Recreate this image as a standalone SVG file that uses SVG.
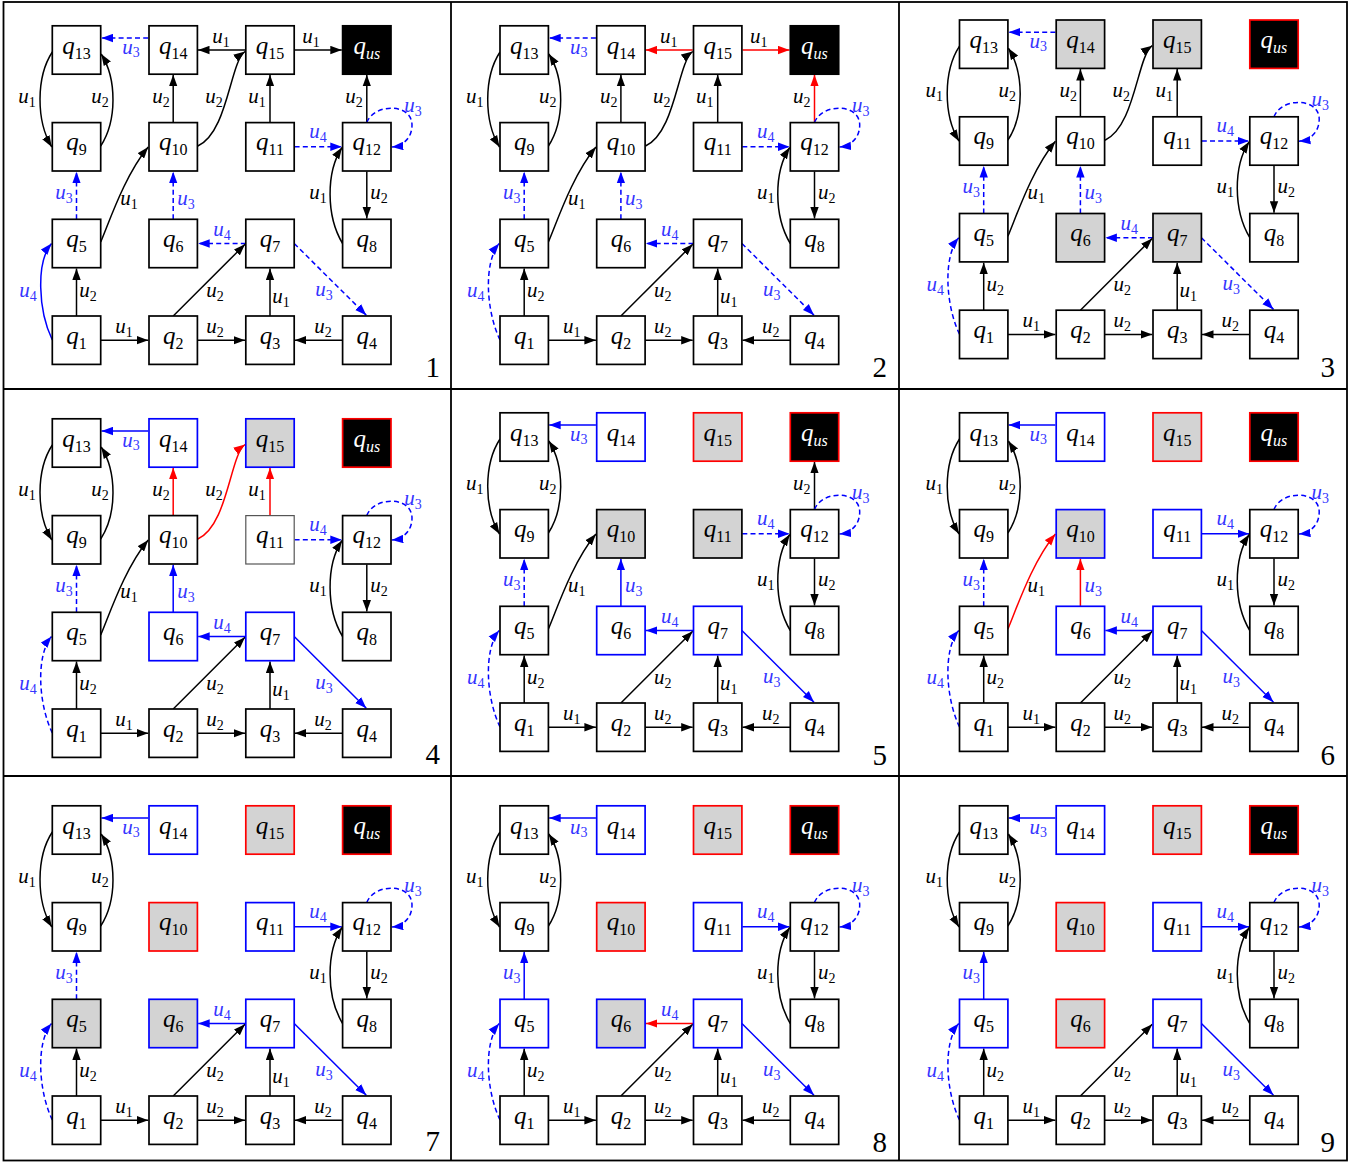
<svg xmlns="http://www.w3.org/2000/svg" width="1359" height="1162" viewBox="0 0 1359 1162">
<style>
.nd rect{stroke-width:1.7}
.n{fill:#fff;stroke:#000}
.g{fill:#d3d3d3;stroke:#000}
.b{fill:#fff;stroke:#00f}
.gb{fill:#d3d3d3;stroke:#00f}
.gr{fill:#d3d3d3;stroke:#f00}
.k{fill:#000;stroke:#000}
.kr{fill:#000;stroke:#f00}
.nd rect.t{fill:#fff;stroke:#555;stroke-width:1.2}
.q{font-family:"Liberation Serif",serif;font-style:italic;font-size:25px;text-anchor:middle;fill:#000}
.q tspan{font-style:normal;font-size:16px}
.q tspan.i{font-style:italic}
.q.w{fill:#fff}
.ek,.eb,.er{fill:none;stroke-width:1.5}
.ek{stroke:#000;marker-end:url(#ak)}
.eb{stroke:#00f;marker-end:url(#ab)}
.er{stroke:#f00;marker-end:url(#ar)}
.ed{stroke-dasharray:5 3.2}
.u{font-family:"Liberation Serif",serif;font-style:italic;font-size:21px;text-anchor:middle;fill:#000}
.u tspan{font-style:normal;font-size:14px}
.u.lb{fill:#3535ff}
.pn{font-family:"Liberation Serif",serif;font-size:29px;text-anchor:end;fill:#000}
.fr{fill:none;stroke:#000;stroke-width:1.8}
</style>
<defs>
<marker id="ak" markerUnits="userSpaceOnUse" markerWidth="12" markerHeight="9" refX="11.5" refY="4.5" orient="auto"><path d="M0,0.3L11.5,4.5L0,8.7Z" fill="#000"/></marker>
<marker id="ab" markerUnits="userSpaceOnUse" markerWidth="12" markerHeight="9" refX="11.5" refY="4.5" orient="auto"><path d="M0,0.3L11.5,4.5L0,8.7Z" fill="#00f"/></marker>
<marker id="ar" markerUnits="userSpaceOnUse" markerWidth="12" markerHeight="9" refX="11.5" refY="4.5" orient="auto"><path d="M0,0.3L11.5,4.5L0,8.7Z" fill="#f00"/></marker>
</defs>
<rect width="1359" height="1162" fill="#fff"/>
<g id="frame">
<rect class="fr" x="3.5" y="2" width="1343.5" height="1158.5"/>
<line class="fr" x1="451" y1="2" x2="451" y2="1161"/>
<line class="fr" x1="899" y1="2" x2="899" y2="1161"/>
<line class="fr" x1="3.5" y1="389" x2="1347" y2="389"/>
<line class="fr" x1="3.5" y1="776" x2="1347" y2="776"/>
</g>

<!-- PANEL 1 -->
<g id="panel1" transform="translate(0,0)">
<g id="p1-connectors">
<path class="eb ed" d="M148.2,38H101.5"/>
<path class="ek" d="M245,50H198"/>
<path class="ek" d="M294.8,50H341.8"/>
<path class="ek" d="M52.3,52C36,77 36,121 51.8,147"/>
<path class="ek" d="M100.7,146C117,121 117,79 101.2,54"/>
<path class="ek" d="M173.2,122.6V74.8"/>
<path class="ek" d="M197.8,146C228,132 230,62 245,51.5"/>
<path class="ek" d="M270,122.6V74.8"/>
<path class="ek" d="M366.8,122.6V74.8"/>
<path class="eb ed" d="M294.6,146.8H341.8"/>
<path class="eb ed" d="M366.8,122.6C374,103 412,103 412,125C412,138 403,146 391.8,147"/>
<path class="ek" d="M366.8,171.4V218.5"/>
<path class="ek" d="M342.6,243.5C326,216 326,172 342,147.5"/>
<path class="eb ed" d="M76.5,219.3V171.8"/>
<path class="ek" d="M100.7,242C110,220 125,175 148.2,147"/>
<path class="eb ed" d="M173.2,219.3V171.8"/>
<path class="eb ed" d="M245.8,243.5H198.2"/>
<path class="eb ed" d="M294.2,243.5L366.3,315.2"/>
<path class="ek" d="M76.5,316V268.5"/>
<path class="eb" d="M52.3,340C38,310 36,262 51.5,243.5"/>
<path class="ek" d="M100.7,340.2H148.2"/>
<path class="ek" d="M173.2,316L245,244.3"/>
<path class="ek" d="M197.4,340.2H245"/>
<path class="ek" d="M270,316V268.5"/>
<path class="ek" d="M342.6,340.2H294.8"/>
<text class="u lb" x="131" y="53.5">u<tspan dy="3.5">3</tspan></text>
<text class="u" x="221" y="43">u<tspan dy="3.5">1</tspan></text>
<text class="u" x="311" y="43">u<tspan dy="3.5">1</tspan></text>
<text class="u" x="27" y="103">u<tspan dy="3.5">1</tspan></text>
<text class="u" x="100" y="103">u<tspan dy="3.5">2</tspan></text>
<text class="u" x="161" y="103">u<tspan dy="3.5">2</tspan></text>
<text class="u" x="214" y="103">u<tspan dy="3.5">2</tspan></text>
<text class="u" x="257" y="103">u<tspan dy="3.5">1</tspan></text>
<text class="u" x="354" y="103">u<tspan dy="3.5">2</tspan></text>
<text class="u lb" x="318" y="138">u<tspan dy="3.5">4</tspan></text>
<text class="u lb" x="413" y="112">u<tspan dy="3.5">3</tspan></text>
<text class="u" x="379" y="199">u<tspan dy="3.5">2</tspan></text>
<text class="u" x="318" y="199">u<tspan dy="3.5">1</tspan></text>
<text class="u lb" x="64" y="199">u<tspan dy="3.5">3</tspan></text>
<text class="u" x="129" y="205">u<tspan dy="3.5">1</tspan></text>
<text class="u lb" x="186" y="205">u<tspan dy="3.5">3</tspan></text>
<text class="u lb" x="222" y="236">u<tspan dy="3.5">4</tspan></text>
<text class="u lb" x="324" y="296">u<tspan dy="3.5">3</tspan></text>
<text class="u" x="88" y="297">u<tspan dy="3.5">2</tspan></text>
<text class="u lb" x="28" y="297">u<tspan dy="3.5">4</tspan></text>
<text class="u" x="124" y="333">u<tspan dy="3.5">1</tspan></text>
<text class="u" x="215" y="297">u<tspan dy="3.5">2</tspan></text>
<text class="u" x="215" y="333">u<tspan dy="3.5">2</tspan></text>
<text class="u" x="281" y="303">u<tspan dy="3.5">1</tspan></text>
<text class="u" x="323" y="333">u<tspan dy="3.5">2</tspan></text>
</g>
<g id="p1-q13" class="nd"><rect class="n" x="52.3" y="25.8" width="48.4" height="48.4"/><text class="q" x="76.5" y="53.5">q<tspan dy="5">13</tspan></text></g>
<g id="p1-q14" class="nd"><rect class="n" x="149" y="25.8" width="48.4" height="48.4"/><text class="q" x="173.2" y="53.5">q<tspan dy="5">14</tspan></text></g>
<g id="p1-q15" class="nd"><rect class="n" x="245.8" y="25.8" width="48.4" height="48.4"/><text class="q" x="270" y="53.5">q<tspan dy="5">15</tspan></text></g>
<g id="p1-qus" class="nd"><rect class="k" x="342.6" y="25.8" width="48.4" height="48.4"/><text class="q w" x="366.8" y="53.5">q<tspan class="i" dy="5">us</tspan></text></g>
<g id="p1-q9" class="nd"><rect class="n" x="52.3" y="122.6" width="48.4" height="48.4"/><text class="q" x="76.5" y="150.3">q<tspan dy="5">9</tspan></text></g>
<g id="p1-q10" class="nd"><rect class="n" x="149" y="122.6" width="48.4" height="48.4"/><text class="q" x="173.2" y="150.3">q<tspan dy="5">10</tspan></text></g>
<g id="p1-q11" class="nd"><rect class="n" x="245.8" y="122.6" width="48.4" height="48.4"/><text class="q" x="270" y="150.3">q<tspan dy="5">11</tspan></text></g>
<g id="p1-q12" class="nd"><rect class="n" x="342.6" y="122.6" width="48.4" height="48.4"/><text class="q" x="366.8" y="150.3">q<tspan dy="5">12</tspan></text></g>
<g id="p1-q5" class="nd"><rect class="n" x="52.3" y="219.3" width="48.4" height="48.4"/><text class="q" x="76.5" y="247">q<tspan dy="5">5</tspan></text></g>
<g id="p1-q6" class="nd"><rect class="n" x="149" y="219.3" width="48.4" height="48.4"/><text class="q" x="173.2" y="247">q<tspan dy="5">6</tspan></text></g>
<g id="p1-q7" class="nd"><rect class="n" x="245.8" y="219.3" width="48.4" height="48.4"/><text class="q" x="270" y="247">q<tspan dy="5">7</tspan></text></g>
<g id="p1-q8" class="nd"><rect class="n" x="342.6" y="219.3" width="48.4" height="48.4"/><text class="q" x="366.8" y="247">q<tspan dy="5">8</tspan></text></g>
<g id="p1-q1" class="nd"><rect class="n" x="52.3" y="316" width="48.4" height="48.4"/><text class="q" x="76.5" y="343.7">q<tspan dy="5">1</tspan></text></g>
<g id="p1-q2" class="nd"><rect class="n" x="149" y="316" width="48.4" height="48.4"/><text class="q" x="173.2" y="343.7">q<tspan dy="5">2</tspan></text></g>
<g id="p1-q3" class="nd"><rect class="n" x="245.8" y="316" width="48.4" height="48.4"/><text class="q" x="270" y="343.7">q<tspan dy="5">3</tspan></text></g>
<g id="p1-q4" class="nd"><rect class="n" x="342.6" y="316" width="48.4" height="48.4"/><text class="q" x="366.8" y="343.7">q<tspan dy="5">4</tspan></text></g>
</g>

<!-- PANEL 2 -->
<g id="panel2" transform="translate(447.7,0)">
<g id="p2-connectors">
<path class="eb ed" d="M148.2,38H101.5"/>
<path class="er" d="M245,50H198"/>
<path class="er" d="M294.8,50H341.8"/>
<path class="ek" d="M52.3,52C36,77 36,121 51.8,147"/>
<path class="ek" d="M100.7,146C117,121 117,79 101.2,54"/>
<path class="ek" d="M173.2,122.6V74.8"/>
<path class="ek" d="M197.8,146C228,132 230,62 245,51.5"/>
<path class="ek" d="M270,122.6V74.8"/>
<path class="er" d="M366.8,122.6V74.8"/>
<path class="eb ed" d="M294.6,146.8H341.8"/>
<path class="eb ed" d="M366.8,122.6C374,103 412,103 412,125C412,138 403,146 391.8,147"/>
<path class="ek" d="M366.8,171.4V218.5"/>
<path class="ek" d="M342.6,243.5C326,216 326,172 342,147.5"/>
<path class="eb ed" d="M76.5,219.3V171.8"/>
<path class="ek" d="M100.7,242C110,220 125,175 148.2,147"/>
<path class="eb ed" d="M173.2,219.3V171.8"/>
<path class="eb ed" d="M245.8,243.5H198.2"/>
<path class="eb ed" d="M294.2,243.5L366.3,315.2"/>
<path class="ek" d="M76.5,316V268.5"/>
<path class="eb ed" d="M52.3,340C38,310 36,262 51.5,243.5"/>
<path class="ek" d="M100.7,340.2H148.2"/>
<path class="ek" d="M173.2,316L245,244.3"/>
<path class="ek" d="M197.4,340.2H245"/>
<path class="ek" d="M270,316V268.5"/>
<path class="ek" d="M342.6,340.2H294.8"/>
<text class="u lb" x="131" y="53.5">u<tspan dy="3.5">3</tspan></text>
<text class="u" x="221" y="43">u<tspan dy="3.5">1</tspan></text>
<text class="u" x="311" y="43">u<tspan dy="3.5">1</tspan></text>
<text class="u" x="27" y="103">u<tspan dy="3.5">1</tspan></text>
<text class="u" x="100" y="103">u<tspan dy="3.5">2</tspan></text>
<text class="u" x="161" y="103">u<tspan dy="3.5">2</tspan></text>
<text class="u" x="214" y="103">u<tspan dy="3.5">2</tspan></text>
<text class="u" x="257" y="103">u<tspan dy="3.5">1</tspan></text>
<text class="u" x="354" y="103">u<tspan dy="3.5">2</tspan></text>
<text class="u lb" x="318" y="138">u<tspan dy="3.5">4</tspan></text>
<text class="u lb" x="413" y="112">u<tspan dy="3.5">3</tspan></text>
<text class="u" x="379" y="199">u<tspan dy="3.5">2</tspan></text>
<text class="u" x="318" y="199">u<tspan dy="3.5">1</tspan></text>
<text class="u lb" x="64" y="199">u<tspan dy="3.5">3</tspan></text>
<text class="u" x="129" y="205">u<tspan dy="3.5">1</tspan></text>
<text class="u lb" x="186" y="205">u<tspan dy="3.5">3</tspan></text>
<text class="u lb" x="222" y="236">u<tspan dy="3.5">4</tspan></text>
<text class="u lb" x="324" y="296">u<tspan dy="3.5">3</tspan></text>
<text class="u" x="88" y="297">u<tspan dy="3.5">2</tspan></text>
<text class="u lb" x="28" y="297">u<tspan dy="3.5">4</tspan></text>
<text class="u" x="124" y="333">u<tspan dy="3.5">1</tspan></text>
<text class="u" x="215" y="297">u<tspan dy="3.5">2</tspan></text>
<text class="u" x="215" y="333">u<tspan dy="3.5">2</tspan></text>
<text class="u" x="281" y="303">u<tspan dy="3.5">1</tspan></text>
<text class="u" x="323" y="333">u<tspan dy="3.5">2</tspan></text>
</g>
<g id="p2-q13" class="nd"><rect class="n" x="52.3" y="25.8" width="48.4" height="48.4"/><text class="q" x="76.5" y="53.5">q<tspan dy="5">13</tspan></text></g>
<g id="p2-q14" class="nd"><rect class="n" x="149" y="25.8" width="48.4" height="48.4"/><text class="q" x="173.2" y="53.5">q<tspan dy="5">14</tspan></text></g>
<g id="p2-q15" class="nd"><rect class="n" x="245.8" y="25.8" width="48.4" height="48.4"/><text class="q" x="270" y="53.5">q<tspan dy="5">15</tspan></text></g>
<g id="p2-qus" class="nd"><rect class="k" x="342.6" y="25.8" width="48.4" height="48.4"/><text class="q w" x="366.8" y="53.5">q<tspan class="i" dy="5">us</tspan></text></g>
<g id="p2-q9" class="nd"><rect class="n" x="52.3" y="122.6" width="48.4" height="48.4"/><text class="q" x="76.5" y="150.3">q<tspan dy="5">9</tspan></text></g>
<g id="p2-q10" class="nd"><rect class="n" x="149" y="122.6" width="48.4" height="48.4"/><text class="q" x="173.2" y="150.3">q<tspan dy="5">10</tspan></text></g>
<g id="p2-q11" class="nd"><rect class="n" x="245.8" y="122.6" width="48.4" height="48.4"/><text class="q" x="270" y="150.3">q<tspan dy="5">11</tspan></text></g>
<g id="p2-q12" class="nd"><rect class="n" x="342.6" y="122.6" width="48.4" height="48.4"/><text class="q" x="366.8" y="150.3">q<tspan dy="5">12</tspan></text></g>
<g id="p2-q5" class="nd"><rect class="n" x="52.3" y="219.3" width="48.4" height="48.4"/><text class="q" x="76.5" y="247">q<tspan dy="5">5</tspan></text></g>
<g id="p2-q6" class="nd"><rect class="n" x="149" y="219.3" width="48.4" height="48.4"/><text class="q" x="173.2" y="247">q<tspan dy="5">6</tspan></text></g>
<g id="p2-q7" class="nd"><rect class="n" x="245.8" y="219.3" width="48.4" height="48.4"/><text class="q" x="270" y="247">q<tspan dy="5">7</tspan></text></g>
<g id="p2-q8" class="nd"><rect class="n" x="342.6" y="219.3" width="48.4" height="48.4"/><text class="q" x="366.8" y="247">q<tspan dy="5">8</tspan></text></g>
<g id="p2-q1" class="nd"><rect class="n" x="52.3" y="316" width="48.4" height="48.4"/><text class="q" x="76.5" y="343.7">q<tspan dy="5">1</tspan></text></g>
<g id="p2-q2" class="nd"><rect class="n" x="149" y="316" width="48.4" height="48.4"/><text class="q" x="173.2" y="343.7">q<tspan dy="5">2</tspan></text></g>
<g id="p2-q3" class="nd"><rect class="n" x="245.8" y="316" width="48.4" height="48.4"/><text class="q" x="270" y="343.7">q<tspan dy="5">3</tspan></text></g>
<g id="p2-q4" class="nd"><rect class="n" x="342.6" y="316" width="48.4" height="48.4"/><text class="q" x="366.8" y="343.7">q<tspan dy="5">4</tspan></text></g>
</g>

<!-- PANEL 3 -->
<g id="panel3" transform="translate(907.2,-5.8)">
<g id="p3-connectors">
<path class="eb ed" d="M148.2,38H101.5"/>
<path class="ek" d="M52.3,52C36,77 36,121 51.8,147"/>
<path class="ek" d="M100.7,146C117,121 117,79 101.2,54"/>
<path class="ek" d="M173.2,122.6V74.8"/>
<path class="ek" d="M197.8,146C228,132 230,62 245,51.5"/>
<path class="ek" d="M270,122.6V74.8"/>
<path class="eb ed" d="M294.6,146.8H341.8"/>
<path class="eb ed" d="M366.8,122.6C374,103 412,103 412,125C412,138 403,146 391.8,147"/>
<path class="ek" d="M366.8,171.4V218.5"/>
<path class="ek" d="M342.6,243.5C326,216 326,172 342,147.5"/>
<path class="eb ed" d="M76.5,219.3V171.8"/>
<path class="ek" d="M100.7,242C110,220 125,175 148.2,147"/>
<path class="eb ed" d="M173.2,219.3V171.8"/>
<path class="eb ed" d="M245.8,243.5H198.2"/>
<path class="eb ed" d="M294.2,243.5L366.3,315.2"/>
<path class="ek" d="M76.5,316V268.5"/>
<path class="eb ed" d="M52.3,340C38,310 36,262 51.5,243.5"/>
<path class="ek" d="M100.7,340.2H148.2"/>
<path class="ek" d="M173.2,316L245,244.3"/>
<path class="ek" d="M197.4,340.2H245"/>
<path class="ek" d="M270,316V268.5"/>
<path class="ek" d="M342.6,340.2H294.8"/>
<text class="u lb" x="131" y="53.5">u<tspan dy="3.5">3</tspan></text>
<text class="u" x="27" y="103">u<tspan dy="3.5">1</tspan></text>
<text class="u" x="100" y="103">u<tspan dy="3.5">2</tspan></text>
<text class="u" x="161" y="103">u<tspan dy="3.5">2</tspan></text>
<text class="u" x="214" y="103">u<tspan dy="3.5">2</tspan></text>
<text class="u" x="257" y="103">u<tspan dy="3.5">1</tspan></text>
<text class="u lb" x="318" y="138">u<tspan dy="3.5">4</tspan></text>
<text class="u lb" x="413" y="112">u<tspan dy="3.5">3</tspan></text>
<text class="u" x="379" y="199">u<tspan dy="3.5">2</tspan></text>
<text class="u" x="318" y="199">u<tspan dy="3.5">1</tspan></text>
<text class="u lb" x="64" y="199">u<tspan dy="3.5">3</tspan></text>
<text class="u" x="129" y="205">u<tspan dy="3.5">1</tspan></text>
<text class="u lb" x="186" y="205">u<tspan dy="3.5">3</tspan></text>
<text class="u lb" x="222" y="236">u<tspan dy="3.5">4</tspan></text>
<text class="u lb" x="324" y="296">u<tspan dy="3.5">3</tspan></text>
<text class="u" x="88" y="297">u<tspan dy="3.5">2</tspan></text>
<text class="u lb" x="28" y="297">u<tspan dy="3.5">4</tspan></text>
<text class="u" x="124" y="333">u<tspan dy="3.5">1</tspan></text>
<text class="u" x="215" y="297">u<tspan dy="3.5">2</tspan></text>
<text class="u" x="215" y="333">u<tspan dy="3.5">2</tspan></text>
<text class="u" x="281" y="303">u<tspan dy="3.5">1</tspan></text>
<text class="u" x="323" y="333">u<tspan dy="3.5">2</tspan></text>
</g>
<g id="p3-q13" class="nd"><rect class="n" x="52.3" y="25.8" width="48.4" height="48.4"/><text class="q" x="76.5" y="53.5">q<tspan dy="5">13</tspan></text></g>
<g id="p3-q14" class="nd"><rect class="g" x="149" y="25.8" width="48.4" height="48.4"/><text class="q" x="173.2" y="53.5">q<tspan dy="5">14</tspan></text></g>
<g id="p3-q15" class="nd"><rect class="g" x="245.8" y="25.8" width="48.4" height="48.4"/><text class="q" x="270" y="53.5">q<tspan dy="5">15</tspan></text></g>
<g id="p3-qus" class="nd"><rect class="kr" x="342.6" y="25.8" width="48.4" height="48.4"/><text class="q w" x="366.8" y="53.5">q<tspan class="i" dy="5">us</tspan></text></g>
<g id="p3-q9" class="nd"><rect class="n" x="52.3" y="122.6" width="48.4" height="48.4"/><text class="q" x="76.5" y="150.3">q<tspan dy="5">9</tspan></text></g>
<g id="p3-q10" class="nd"><rect class="n" x="149" y="122.6" width="48.4" height="48.4"/><text class="q" x="173.2" y="150.3">q<tspan dy="5">10</tspan></text></g>
<g id="p3-q11" class="nd"><rect class="n" x="245.8" y="122.6" width="48.4" height="48.4"/><text class="q" x="270" y="150.3">q<tspan dy="5">11</tspan></text></g>
<g id="p3-q12" class="nd"><rect class="n" x="342.6" y="122.6" width="48.4" height="48.4"/><text class="q" x="366.8" y="150.3">q<tspan dy="5">12</tspan></text></g>
<g id="p3-q5" class="nd"><rect class="n" x="52.3" y="219.3" width="48.4" height="48.4"/><text class="q" x="76.5" y="247">q<tspan dy="5">5</tspan></text></g>
<g id="p3-q6" class="nd"><rect class="g" x="149" y="219.3" width="48.4" height="48.4"/><text class="q" x="173.2" y="247">q<tspan dy="5">6</tspan></text></g>
<g id="p3-q7" class="nd"><rect class="g" x="245.8" y="219.3" width="48.4" height="48.4"/><text class="q" x="270" y="247">q<tspan dy="5">7</tspan></text></g>
<g id="p3-q8" class="nd"><rect class="n" x="342.6" y="219.3" width="48.4" height="48.4"/><text class="q" x="366.8" y="247">q<tspan dy="5">8</tspan></text></g>
<g id="p3-q1" class="nd"><rect class="n" x="52.3" y="316" width="48.4" height="48.4"/><text class="q" x="76.5" y="343.7">q<tspan dy="5">1</tspan></text></g>
<g id="p3-q2" class="nd"><rect class="n" x="149" y="316" width="48.4" height="48.4"/><text class="q" x="173.2" y="343.7">q<tspan dy="5">2</tspan></text></g>
<g id="p3-q3" class="nd"><rect class="n" x="245.8" y="316" width="48.4" height="48.4"/><text class="q" x="270" y="343.7">q<tspan dy="5">3</tspan></text></g>
<g id="p3-q4" class="nd"><rect class="n" x="342.6" y="316" width="48.4" height="48.4"/><text class="q" x="366.8" y="343.7">q<tspan dy="5">4</tspan></text></g>
</g>

<!-- PANEL 4 -->
<g id="panel4" transform="translate(0,393)">
<g id="p4-connectors">
<path class="eb" d="M148.2,38H101.5"/>
<path class="ek" d="M52.3,52C36,77 36,121 51.8,147"/>
<path class="ek" d="M100.7,146C117,121 117,79 101.2,54"/>
<path class="er" d="M173.2,122.6V74.8"/>
<path class="er" d="M197.8,146C228,132 230,62 245,51.5"/>
<path class="er" d="M270,122.6V74.8"/>
<path class="eb ed" d="M294.6,146.8H341.8"/>
<path class="eb ed" d="M366.8,122.6C374,103 412,103 412,125C412,138 403,146 391.8,147"/>
<path class="ek" d="M366.8,171.4V218.5"/>
<path class="ek" d="M342.6,243.5C326,216 326,172 342,147.5"/>
<path class="eb ed" d="M76.5,219.3V171.8"/>
<path class="ek" d="M100.7,242C110,220 125,175 148.2,147"/>
<path class="eb" d="M173.2,219.3V171.8"/>
<path class="eb" d="M245.8,243.5H198.2"/>
<path class="eb" d="M294.2,243.5L366.3,315.2"/>
<path class="ek" d="M76.5,316V268.5"/>
<path class="eb ed" d="M52.3,340C38,310 36,262 51.5,243.5"/>
<path class="ek" d="M100.7,340.2H148.2"/>
<path class="ek" d="M173.2,316L245,244.3"/>
<path class="ek" d="M197.4,340.2H245"/>
<path class="ek" d="M270,316V268.5"/>
<path class="ek" d="M342.6,340.2H294.8"/>
<text class="u lb" x="131" y="53.5">u<tspan dy="3.5">3</tspan></text>
<text class="u" x="27" y="103">u<tspan dy="3.5">1</tspan></text>
<text class="u" x="100" y="103">u<tspan dy="3.5">2</tspan></text>
<text class="u" x="161" y="103">u<tspan dy="3.5">2</tspan></text>
<text class="u" x="214" y="103">u<tspan dy="3.5">2</tspan></text>
<text class="u" x="257" y="103">u<tspan dy="3.5">1</tspan></text>
<text class="u lb" x="318" y="138">u<tspan dy="3.5">4</tspan></text>
<text class="u lb" x="413" y="112">u<tspan dy="3.5">3</tspan></text>
<text class="u" x="379" y="199">u<tspan dy="3.5">2</tspan></text>
<text class="u" x="318" y="199">u<tspan dy="3.5">1</tspan></text>
<text class="u lb" x="64" y="199">u<tspan dy="3.5">3</tspan></text>
<text class="u" x="129" y="205">u<tspan dy="3.5">1</tspan></text>
<text class="u lb" x="186" y="205">u<tspan dy="3.5">3</tspan></text>
<text class="u lb" x="222" y="236">u<tspan dy="3.5">4</tspan></text>
<text class="u lb" x="324" y="296">u<tspan dy="3.5">3</tspan></text>
<text class="u" x="88" y="297">u<tspan dy="3.5">2</tspan></text>
<text class="u lb" x="28" y="297">u<tspan dy="3.5">4</tspan></text>
<text class="u" x="124" y="333">u<tspan dy="3.5">1</tspan></text>
<text class="u" x="215" y="297">u<tspan dy="3.5">2</tspan></text>
<text class="u" x="215" y="333">u<tspan dy="3.5">2</tspan></text>
<text class="u" x="281" y="303">u<tspan dy="3.5">1</tspan></text>
<text class="u" x="323" y="333">u<tspan dy="3.5">2</tspan></text>
</g>
<g id="p4-q13" class="nd"><rect class="n" x="52.3" y="25.8" width="48.4" height="48.4"/><text class="q" x="76.5" y="53.5">q<tspan dy="5">13</tspan></text></g>
<g id="p4-q14" class="nd"><rect class="b" x="149" y="25.8" width="48.4" height="48.4"/><text class="q" x="173.2" y="53.5">q<tspan dy="5">14</tspan></text></g>
<g id="p4-q15" class="nd"><rect class="gb" x="245.8" y="25.8" width="48.4" height="48.4"/><text class="q" x="270" y="53.5">q<tspan dy="5">15</tspan></text></g>
<g id="p4-qus" class="nd"><rect class="kr" x="342.6" y="25.8" width="48.4" height="48.4"/><text class="q w" x="366.8" y="53.5">q<tspan class="i" dy="5">us</tspan></text></g>
<g id="p4-q9" class="nd"><rect class="n" x="52.3" y="122.6" width="48.4" height="48.4"/><text class="q" x="76.5" y="150.3">q<tspan dy="5">9</tspan></text></g>
<g id="p4-q10" class="nd"><rect class="n" x="149" y="122.6" width="48.4" height="48.4"/><text class="q" x="173.2" y="150.3">q<tspan dy="5">10</tspan></text></g>
<g id="p4-q11" class="nd"><rect class="t" x="245.8" y="122.6" width="48.4" height="48.4"/><text class="q" x="270" y="150.3">q<tspan dy="5">11</tspan></text></g>
<g id="p4-q12" class="nd"><rect class="n" x="342.6" y="122.6" width="48.4" height="48.4"/><text class="q" x="366.8" y="150.3">q<tspan dy="5">12</tspan></text></g>
<g id="p4-q5" class="nd"><rect class="n" x="52.3" y="219.3" width="48.4" height="48.4"/><text class="q" x="76.5" y="247">q<tspan dy="5">5</tspan></text></g>
<g id="p4-q6" class="nd"><rect class="b" x="149" y="219.3" width="48.4" height="48.4"/><text class="q" x="173.2" y="247">q<tspan dy="5">6</tspan></text></g>
<g id="p4-q7" class="nd"><rect class="b" x="245.8" y="219.3" width="48.4" height="48.4"/><text class="q" x="270" y="247">q<tspan dy="5">7</tspan></text></g>
<g id="p4-q8" class="nd"><rect class="n" x="342.6" y="219.3" width="48.4" height="48.4"/><text class="q" x="366.8" y="247">q<tspan dy="5">8</tspan></text></g>
<g id="p4-q1" class="nd"><rect class="n" x="52.3" y="316" width="48.4" height="48.4"/><text class="q" x="76.5" y="343.7">q<tspan dy="5">1</tspan></text></g>
<g id="p4-q2" class="nd"><rect class="n" x="149" y="316" width="48.4" height="48.4"/><text class="q" x="173.2" y="343.7">q<tspan dy="5">2</tspan></text></g>
<g id="p4-q3" class="nd"><rect class="n" x="245.8" y="316" width="48.4" height="48.4"/><text class="q" x="270" y="343.7">q<tspan dy="5">3</tspan></text></g>
<g id="p4-q4" class="nd"><rect class="n" x="342.6" y="316" width="48.4" height="48.4"/><text class="q" x="366.8" y="343.7">q<tspan dy="5">4</tspan></text></g>
</g>

<!-- PANEL 5 -->
<g id="panel5" transform="translate(447.7,387)">
<g id="p5-connectors">
<path class="eb" d="M148.2,38H101.5"/>
<path class="ek" d="M52.3,52C36,77 36,121 51.8,147"/>
<path class="ek" d="M100.7,146C117,121 117,79 101.2,54"/>
<path class="ek" d="M366.8,122.6V74.8"/>
<path class="eb ed" d="M294.6,146.8H341.8"/>
<path class="eb ed" d="M366.8,122.6C374,103 412,103 412,125C412,138 403,146 391.8,147"/>
<path class="ek" d="M366.8,171.4V218.5"/>
<path class="ek" d="M342.6,243.5C326,216 326,172 342,147.5"/>
<path class="eb ed" d="M76.5,219.3V171.8"/>
<path class="ek" d="M100.7,242C110,220 125,175 148.2,147"/>
<path class="eb" d="M173.2,219.3V171.8"/>
<path class="eb" d="M245.8,243.5H198.2"/>
<path class="eb" d="M294.2,243.5L366.3,315.2"/>
<path class="ek" d="M76.5,316V268.5"/>
<path class="eb ed" d="M52.3,340C38,310 36,262 51.5,243.5"/>
<path class="ek" d="M100.7,340.2H148.2"/>
<path class="ek" d="M173.2,316L245,244.3"/>
<path class="ek" d="M197.4,340.2H245"/>
<path class="ek" d="M270,316V268.5"/>
<path class="ek" d="M342.6,340.2H294.8"/>
<text class="u lb" x="131" y="53.5">u<tspan dy="3.5">3</tspan></text>
<text class="u" x="27" y="103">u<tspan dy="3.5">1</tspan></text>
<text class="u" x="100" y="103">u<tspan dy="3.5">2</tspan></text>
<text class="u" x="354" y="103">u<tspan dy="3.5">2</tspan></text>
<text class="u lb" x="318" y="138">u<tspan dy="3.5">4</tspan></text>
<text class="u lb" x="413" y="112">u<tspan dy="3.5">3</tspan></text>
<text class="u" x="379" y="199">u<tspan dy="3.5">2</tspan></text>
<text class="u" x="318" y="199">u<tspan dy="3.5">1</tspan></text>
<text class="u lb" x="64" y="199">u<tspan dy="3.5">3</tspan></text>
<text class="u" x="129" y="205">u<tspan dy="3.5">1</tspan></text>
<text class="u lb" x="186" y="205">u<tspan dy="3.5">3</tspan></text>
<text class="u lb" x="222" y="236">u<tspan dy="3.5">4</tspan></text>
<text class="u lb" x="324" y="296">u<tspan dy="3.5">3</tspan></text>
<text class="u" x="88" y="297">u<tspan dy="3.5">2</tspan></text>
<text class="u lb" x="28" y="297">u<tspan dy="3.5">4</tspan></text>
<text class="u" x="124" y="333">u<tspan dy="3.5">1</tspan></text>
<text class="u" x="215" y="297">u<tspan dy="3.5">2</tspan></text>
<text class="u" x="215" y="333">u<tspan dy="3.5">2</tspan></text>
<text class="u" x="281" y="303">u<tspan dy="3.5">1</tspan></text>
<text class="u" x="323" y="333">u<tspan dy="3.5">2</tspan></text>
</g>
<g id="p5-q13" class="nd"><rect class="n" x="52.3" y="25.8" width="48.4" height="48.4"/><text class="q" x="76.5" y="53.5">q<tspan dy="5">13</tspan></text></g>
<g id="p5-q14" class="nd"><rect class="b" x="149" y="25.8" width="48.4" height="48.4"/><text class="q" x="173.2" y="53.5">q<tspan dy="5">14</tspan></text></g>
<g id="p5-q15" class="nd"><rect class="gr" x="245.8" y="25.8" width="48.4" height="48.4"/><text class="q" x="270" y="53.5">q<tspan dy="5">15</tspan></text></g>
<g id="p5-qus" class="nd"><rect class="kr" x="342.6" y="25.8" width="48.4" height="48.4"/><text class="q w" x="366.8" y="53.5">q<tspan class="i" dy="5">us</tspan></text></g>
<g id="p5-q9" class="nd"><rect class="n" x="52.3" y="122.6" width="48.4" height="48.4"/><text class="q" x="76.5" y="150.3">q<tspan dy="5">9</tspan></text></g>
<g id="p5-q10" class="nd"><rect class="g" x="149" y="122.6" width="48.4" height="48.4"/><text class="q" x="173.2" y="150.3">q<tspan dy="5">10</tspan></text></g>
<g id="p5-q11" class="nd"><rect class="g" x="245.8" y="122.6" width="48.4" height="48.4"/><text class="q" x="270" y="150.3">q<tspan dy="5">11</tspan></text></g>
<g id="p5-q12" class="nd"><rect class="n" x="342.6" y="122.6" width="48.4" height="48.4"/><text class="q" x="366.8" y="150.3">q<tspan dy="5">12</tspan></text></g>
<g id="p5-q5" class="nd"><rect class="n" x="52.3" y="219.3" width="48.4" height="48.4"/><text class="q" x="76.5" y="247">q<tspan dy="5">5</tspan></text></g>
<g id="p5-q6" class="nd"><rect class="b" x="149" y="219.3" width="48.4" height="48.4"/><text class="q" x="173.2" y="247">q<tspan dy="5">6</tspan></text></g>
<g id="p5-q7" class="nd"><rect class="b" x="245.8" y="219.3" width="48.4" height="48.4"/><text class="q" x="270" y="247">q<tspan dy="5">7</tspan></text></g>
<g id="p5-q8" class="nd"><rect class="n" x="342.6" y="219.3" width="48.4" height="48.4"/><text class="q" x="366.8" y="247">q<tspan dy="5">8</tspan></text></g>
<g id="p5-q1" class="nd"><rect class="n" x="52.3" y="316" width="48.4" height="48.4"/><text class="q" x="76.5" y="343.7">q<tspan dy="5">1</tspan></text></g>
<g id="p5-q2" class="nd"><rect class="n" x="149" y="316" width="48.4" height="48.4"/><text class="q" x="173.2" y="343.7">q<tspan dy="5">2</tspan></text></g>
<g id="p5-q3" class="nd"><rect class="n" x="245.8" y="316" width="48.4" height="48.4"/><text class="q" x="270" y="343.7">q<tspan dy="5">3</tspan></text></g>
<g id="p5-q4" class="nd"><rect class="n" x="342.6" y="316" width="48.4" height="48.4"/><text class="q" x="366.8" y="343.7">q<tspan dy="5">4</tspan></text></g>
</g>

<!-- PANEL 6 -->
<g id="panel6" transform="translate(907.2,387)">
<g id="p6-connectors">
<path class="eb" d="M148.2,38H101.5"/>
<path class="ek" d="M52.3,52C36,77 36,121 51.8,147"/>
<path class="ek" d="M100.7,146C117,121 117,79 101.2,54"/>
<path class="eb" d="M294.6,146.8H341.8"/>
<path class="eb ed" d="M366.8,122.6C374,103 412,103 412,125C412,138 403,146 391.8,147"/>
<path class="ek" d="M366.8,171.4V218.5"/>
<path class="ek" d="M342.6,243.5C326,216 326,172 342,147.5"/>
<path class="eb ed" d="M76.5,219.3V171.8"/>
<path class="er" d="M100.7,242C110,220 125,175 148.2,147"/>
<path class="er" d="M173.2,219.3V171.8"/>
<path class="eb" d="M245.8,243.5H198.2"/>
<path class="eb" d="M294.2,243.5L366.3,315.2"/>
<path class="ek" d="M76.5,316V268.5"/>
<path class="eb ed" d="M52.3,340C38,310 36,262 51.5,243.5"/>
<path class="ek" d="M100.7,340.2H148.2"/>
<path class="ek" d="M173.2,316L245,244.3"/>
<path class="ek" d="M197.4,340.2H245"/>
<path class="ek" d="M270,316V268.5"/>
<path class="ek" d="M342.6,340.2H294.8"/>
<text class="u lb" x="131" y="53.5">u<tspan dy="3.5">3</tspan></text>
<text class="u" x="27" y="103">u<tspan dy="3.5">1</tspan></text>
<text class="u" x="100" y="103">u<tspan dy="3.5">2</tspan></text>
<text class="u lb" x="318" y="138">u<tspan dy="3.5">4</tspan></text>
<text class="u lb" x="413" y="112">u<tspan dy="3.5">3</tspan></text>
<text class="u" x="379" y="199">u<tspan dy="3.5">2</tspan></text>
<text class="u" x="318" y="199">u<tspan dy="3.5">1</tspan></text>
<text class="u lb" x="64" y="199">u<tspan dy="3.5">3</tspan></text>
<text class="u" x="129" y="205">u<tspan dy="3.5">1</tspan></text>
<text class="u lb" x="186" y="205">u<tspan dy="3.5">3</tspan></text>
<text class="u lb" x="222" y="236">u<tspan dy="3.5">4</tspan></text>
<text class="u lb" x="324" y="296">u<tspan dy="3.5">3</tspan></text>
<text class="u" x="88" y="297">u<tspan dy="3.5">2</tspan></text>
<text class="u lb" x="28" y="297">u<tspan dy="3.5">4</tspan></text>
<text class="u" x="124" y="333">u<tspan dy="3.5">1</tspan></text>
<text class="u" x="215" y="297">u<tspan dy="3.5">2</tspan></text>
<text class="u" x="215" y="333">u<tspan dy="3.5">2</tspan></text>
<text class="u" x="281" y="303">u<tspan dy="3.5">1</tspan></text>
<text class="u" x="323" y="333">u<tspan dy="3.5">2</tspan></text>
</g>
<g id="p6-q13" class="nd"><rect class="n" x="52.3" y="25.8" width="48.4" height="48.4"/><text class="q" x="76.5" y="53.5">q<tspan dy="5">13</tspan></text></g>
<g id="p6-q14" class="nd"><rect class="b" x="149" y="25.8" width="48.4" height="48.4"/><text class="q" x="173.2" y="53.5">q<tspan dy="5">14</tspan></text></g>
<g id="p6-q15" class="nd"><rect class="gr" x="245.8" y="25.8" width="48.4" height="48.4"/><text class="q" x="270" y="53.5">q<tspan dy="5">15</tspan></text></g>
<g id="p6-qus" class="nd"><rect class="kr" x="342.6" y="25.8" width="48.4" height="48.4"/><text class="q w" x="366.8" y="53.5">q<tspan class="i" dy="5">us</tspan></text></g>
<g id="p6-q9" class="nd"><rect class="n" x="52.3" y="122.6" width="48.4" height="48.4"/><text class="q" x="76.5" y="150.3">q<tspan dy="5">9</tspan></text></g>
<g id="p6-q10" class="nd"><rect class="gb" x="149" y="122.6" width="48.4" height="48.4"/><text class="q" x="173.2" y="150.3">q<tspan dy="5">10</tspan></text></g>
<g id="p6-q11" class="nd"><rect class="b" x="245.8" y="122.6" width="48.4" height="48.4"/><text class="q" x="270" y="150.3">q<tspan dy="5">11</tspan></text></g>
<g id="p6-q12" class="nd"><rect class="n" x="342.6" y="122.6" width="48.4" height="48.4"/><text class="q" x="366.8" y="150.3">q<tspan dy="5">12</tspan></text></g>
<g id="p6-q5" class="nd"><rect class="n" x="52.3" y="219.3" width="48.4" height="48.4"/><text class="q" x="76.5" y="247">q<tspan dy="5">5</tspan></text></g>
<g id="p6-q6" class="nd"><rect class="b" x="149" y="219.3" width="48.4" height="48.4"/><text class="q" x="173.2" y="247">q<tspan dy="5">6</tspan></text></g>
<g id="p6-q7" class="nd"><rect class="b" x="245.8" y="219.3" width="48.4" height="48.4"/><text class="q" x="270" y="247">q<tspan dy="5">7</tspan></text></g>
<g id="p6-q8" class="nd"><rect class="n" x="342.6" y="219.3" width="48.4" height="48.4"/><text class="q" x="366.8" y="247">q<tspan dy="5">8</tspan></text></g>
<g id="p6-q1" class="nd"><rect class="n" x="52.3" y="316" width="48.4" height="48.4"/><text class="q" x="76.5" y="343.7">q<tspan dy="5">1</tspan></text></g>
<g id="p6-q2" class="nd"><rect class="n" x="149" y="316" width="48.4" height="48.4"/><text class="q" x="173.2" y="343.7">q<tspan dy="5">2</tspan></text></g>
<g id="p6-q3" class="nd"><rect class="n" x="245.8" y="316" width="48.4" height="48.4"/><text class="q" x="270" y="343.7">q<tspan dy="5">3</tspan></text></g>
<g id="p6-q4" class="nd"><rect class="n" x="342.6" y="316" width="48.4" height="48.4"/><text class="q" x="366.8" y="343.7">q<tspan dy="5">4</tspan></text></g>
</g>

<!-- PANEL 7 -->
<g id="panel7" transform="translate(0,780)">
<g id="p7-connectors">
<path class="eb" d="M148.2,38H101.5"/>
<path class="ek" d="M52.3,52C36,77 36,121 51.8,147"/>
<path class="ek" d="M100.7,146C117,121 117,79 101.2,54"/>
<path class="eb" d="M294.6,146.8H341.8"/>
<path class="eb ed" d="M366.8,122.6C374,103 412,103 412,125C412,138 403,146 391.8,147"/>
<path class="ek" d="M366.8,171.4V218.5"/>
<path class="ek" d="M342.6,243.5C326,216 326,172 342,147.5"/>
<path class="eb ed" d="M76.5,219.3V171.8"/>
<path class="eb" d="M245.8,243.5H198.2"/>
<path class="eb" d="M294.2,243.5L366.3,315.2"/>
<path class="ek" d="M76.5,316V268.5"/>
<path class="eb ed" d="M52.3,340C38,310 36,262 51.5,243.5"/>
<path class="ek" d="M100.7,340.2H148.2"/>
<path class="ek" d="M173.2,316L245,244.3"/>
<path class="ek" d="M197.4,340.2H245"/>
<path class="ek" d="M270,316V268.5"/>
<path class="ek" d="M342.6,340.2H294.8"/>
<text class="u lb" x="131" y="53.5">u<tspan dy="3.5">3</tspan></text>
<text class="u" x="27" y="103">u<tspan dy="3.5">1</tspan></text>
<text class="u" x="100" y="103">u<tspan dy="3.5">2</tspan></text>
<text class="u lb" x="318" y="138">u<tspan dy="3.5">4</tspan></text>
<text class="u lb" x="413" y="112">u<tspan dy="3.5">3</tspan></text>
<text class="u" x="379" y="199">u<tspan dy="3.5">2</tspan></text>
<text class="u" x="318" y="199">u<tspan dy="3.5">1</tspan></text>
<text class="u lb" x="64" y="199">u<tspan dy="3.5">3</tspan></text>
<text class="u lb" x="222" y="236">u<tspan dy="3.5">4</tspan></text>
<text class="u lb" x="324" y="296">u<tspan dy="3.5">3</tspan></text>
<text class="u" x="88" y="297">u<tspan dy="3.5">2</tspan></text>
<text class="u lb" x="28" y="297">u<tspan dy="3.5">4</tspan></text>
<text class="u" x="124" y="333">u<tspan dy="3.5">1</tspan></text>
<text class="u" x="215" y="297">u<tspan dy="3.5">2</tspan></text>
<text class="u" x="215" y="333">u<tspan dy="3.5">2</tspan></text>
<text class="u" x="281" y="303">u<tspan dy="3.5">1</tspan></text>
<text class="u" x="323" y="333">u<tspan dy="3.5">2</tspan></text>
</g>
<g id="p7-q13" class="nd"><rect class="n" x="52.3" y="25.8" width="48.4" height="48.4"/><text class="q" x="76.5" y="53.5">q<tspan dy="5">13</tspan></text></g>
<g id="p7-q14" class="nd"><rect class="b" x="149" y="25.8" width="48.4" height="48.4"/><text class="q" x="173.2" y="53.5">q<tspan dy="5">14</tspan></text></g>
<g id="p7-q15" class="nd"><rect class="gr" x="245.8" y="25.8" width="48.4" height="48.4"/><text class="q" x="270" y="53.5">q<tspan dy="5">15</tspan></text></g>
<g id="p7-qus" class="nd"><rect class="kr" x="342.6" y="25.8" width="48.4" height="48.4"/><text class="q w" x="366.8" y="53.5">q<tspan class="i" dy="5">us</tspan></text></g>
<g id="p7-q9" class="nd"><rect class="n" x="52.3" y="122.6" width="48.4" height="48.4"/><text class="q" x="76.5" y="150.3">q<tspan dy="5">9</tspan></text></g>
<g id="p7-q10" class="nd"><rect class="gr" x="149" y="122.6" width="48.4" height="48.4"/><text class="q" x="173.2" y="150.3">q<tspan dy="5">10</tspan></text></g>
<g id="p7-q11" class="nd"><rect class="b" x="245.8" y="122.6" width="48.4" height="48.4"/><text class="q" x="270" y="150.3">q<tspan dy="5">11</tspan></text></g>
<g id="p7-q12" class="nd"><rect class="n" x="342.6" y="122.6" width="48.4" height="48.4"/><text class="q" x="366.8" y="150.3">q<tspan dy="5">12</tspan></text></g>
<g id="p7-q5" class="nd"><rect class="g" x="52.3" y="219.3" width="48.4" height="48.4"/><text class="q" x="76.5" y="247">q<tspan dy="5">5</tspan></text></g>
<g id="p7-q6" class="nd"><rect class="gb" x="149" y="219.3" width="48.4" height="48.4"/><text class="q" x="173.2" y="247">q<tspan dy="5">6</tspan></text></g>
<g id="p7-q7" class="nd"><rect class="b" x="245.8" y="219.3" width="48.4" height="48.4"/><text class="q" x="270" y="247">q<tspan dy="5">7</tspan></text></g>
<g id="p7-q8" class="nd"><rect class="n" x="342.6" y="219.3" width="48.4" height="48.4"/><text class="q" x="366.8" y="247">q<tspan dy="5">8</tspan></text></g>
<g id="p7-q1" class="nd"><rect class="n" x="52.3" y="316" width="48.4" height="48.4"/><text class="q" x="76.5" y="343.7">q<tspan dy="5">1</tspan></text></g>
<g id="p7-q2" class="nd"><rect class="n" x="149" y="316" width="48.4" height="48.4"/><text class="q" x="173.2" y="343.7">q<tspan dy="5">2</tspan></text></g>
<g id="p7-q3" class="nd"><rect class="n" x="245.8" y="316" width="48.4" height="48.4"/><text class="q" x="270" y="343.7">q<tspan dy="5">3</tspan></text></g>
<g id="p7-q4" class="nd"><rect class="n" x="342.6" y="316" width="48.4" height="48.4"/><text class="q" x="366.8" y="343.7">q<tspan dy="5">4</tspan></text></g>
</g>

<!-- PANEL 8 -->
<g id="panel8" transform="translate(447.7,780)">
<g id="p8-connectors">
<path class="eb" d="M148.2,38H101.5"/>
<path class="ek" d="M52.3,52C36,77 36,121 51.8,147"/>
<path class="ek" d="M100.7,146C117,121 117,79 101.2,54"/>
<path class="eb" d="M294.6,146.8H341.8"/>
<path class="eb ed" d="M366.8,122.6C374,103 412,103 412,125C412,138 403,146 391.8,147"/>
<path class="ek" d="M366.8,171.4V218.5"/>
<path class="ek" d="M342.6,243.5C326,216 326,172 342,147.5"/>
<path class="eb" d="M76.5,219.3V171.8"/>
<path class="er" d="M245.8,243.5H198.2"/>
<path class="eb" d="M294.2,243.5L366.3,315.2"/>
<path class="ek" d="M76.5,316V268.5"/>
<path class="eb ed" d="M52.3,340C38,310 36,262 51.5,243.5"/>
<path class="ek" d="M100.7,340.2H148.2"/>
<path class="ek" d="M173.2,316L245,244.3"/>
<path class="ek" d="M197.4,340.2H245"/>
<path class="ek" d="M270,316V268.5"/>
<path class="ek" d="M342.6,340.2H294.8"/>
<text class="u lb" x="131" y="53.5">u<tspan dy="3.5">3</tspan></text>
<text class="u" x="27" y="103">u<tspan dy="3.5">1</tspan></text>
<text class="u" x="100" y="103">u<tspan dy="3.5">2</tspan></text>
<text class="u lb" x="318" y="138">u<tspan dy="3.5">4</tspan></text>
<text class="u lb" x="413" y="112">u<tspan dy="3.5">3</tspan></text>
<text class="u" x="379" y="199">u<tspan dy="3.5">2</tspan></text>
<text class="u" x="318" y="199">u<tspan dy="3.5">1</tspan></text>
<text class="u lb" x="64" y="199">u<tspan dy="3.5">3</tspan></text>
<text class="u lb" x="222" y="236">u<tspan dy="3.5">4</tspan></text>
<text class="u lb" x="324" y="296">u<tspan dy="3.5">3</tspan></text>
<text class="u" x="88" y="297">u<tspan dy="3.5">2</tspan></text>
<text class="u lb" x="28" y="297">u<tspan dy="3.5">4</tspan></text>
<text class="u" x="124" y="333">u<tspan dy="3.5">1</tspan></text>
<text class="u" x="215" y="297">u<tspan dy="3.5">2</tspan></text>
<text class="u" x="215" y="333">u<tspan dy="3.5">2</tspan></text>
<text class="u" x="281" y="303">u<tspan dy="3.5">1</tspan></text>
<text class="u" x="323" y="333">u<tspan dy="3.5">2</tspan></text>
</g>
<g id="p8-q13" class="nd"><rect class="n" x="52.3" y="25.8" width="48.4" height="48.4"/><text class="q" x="76.5" y="53.5">q<tspan dy="5">13</tspan></text></g>
<g id="p8-q14" class="nd"><rect class="b" x="149" y="25.8" width="48.4" height="48.4"/><text class="q" x="173.2" y="53.5">q<tspan dy="5">14</tspan></text></g>
<g id="p8-q15" class="nd"><rect class="gr" x="245.8" y="25.8" width="48.4" height="48.4"/><text class="q" x="270" y="53.5">q<tspan dy="5">15</tspan></text></g>
<g id="p8-qus" class="nd"><rect class="kr" x="342.6" y="25.8" width="48.4" height="48.4"/><text class="q w" x="366.8" y="53.5">q<tspan class="i" dy="5">us</tspan></text></g>
<g id="p8-q9" class="nd"><rect class="n" x="52.3" y="122.6" width="48.4" height="48.4"/><text class="q" x="76.5" y="150.3">q<tspan dy="5">9</tspan></text></g>
<g id="p8-q10" class="nd"><rect class="gr" x="149" y="122.6" width="48.4" height="48.4"/><text class="q" x="173.2" y="150.3">q<tspan dy="5">10</tspan></text></g>
<g id="p8-q11" class="nd"><rect class="b" x="245.8" y="122.6" width="48.4" height="48.4"/><text class="q" x="270" y="150.3">q<tspan dy="5">11</tspan></text></g>
<g id="p8-q12" class="nd"><rect class="n" x="342.6" y="122.6" width="48.4" height="48.4"/><text class="q" x="366.8" y="150.3">q<tspan dy="5">12</tspan></text></g>
<g id="p8-q5" class="nd"><rect class="b" x="52.3" y="219.3" width="48.4" height="48.4"/><text class="q" x="76.5" y="247">q<tspan dy="5">5</tspan></text></g>
<g id="p8-q6" class="nd"><rect class="gb" x="149" y="219.3" width="48.4" height="48.4"/><text class="q" x="173.2" y="247">q<tspan dy="5">6</tspan></text></g>
<g id="p8-q7" class="nd"><rect class="b" x="245.8" y="219.3" width="48.4" height="48.4"/><text class="q" x="270" y="247">q<tspan dy="5">7</tspan></text></g>
<g id="p8-q8" class="nd"><rect class="n" x="342.6" y="219.3" width="48.4" height="48.4"/><text class="q" x="366.8" y="247">q<tspan dy="5">8</tspan></text></g>
<g id="p8-q1" class="nd"><rect class="n" x="52.3" y="316" width="48.4" height="48.4"/><text class="q" x="76.5" y="343.7">q<tspan dy="5">1</tspan></text></g>
<g id="p8-q2" class="nd"><rect class="n" x="149" y="316" width="48.4" height="48.4"/><text class="q" x="173.2" y="343.7">q<tspan dy="5">2</tspan></text></g>
<g id="p8-q3" class="nd"><rect class="n" x="245.8" y="316" width="48.4" height="48.4"/><text class="q" x="270" y="343.7">q<tspan dy="5">3</tspan></text></g>
<g id="p8-q4" class="nd"><rect class="n" x="342.6" y="316" width="48.4" height="48.4"/><text class="q" x="366.8" y="343.7">q<tspan dy="5">4</tspan></text></g>
</g>

<!-- PANEL 9 -->
<g id="panel9" transform="translate(907.2,780)">
<g id="p9-connectors">
<path class="eb" d="M148.2,38H101.5"/>
<path class="ek" d="M52.3,52C36,77 36,121 51.8,147"/>
<path class="ek" d="M100.7,146C117,121 117,79 101.2,54"/>
<path class="eb" d="M294.6,146.8H341.8"/>
<path class="eb ed" d="M366.8,122.6C374,103 412,103 412,125C412,138 403,146 391.8,147"/>
<path class="ek" d="M366.8,171.4V218.5"/>
<path class="ek" d="M342.6,243.5C326,216 326,172 342,147.5"/>
<path class="eb" d="M76.5,219.3V171.8"/>
<path class="eb" d="M294.2,243.5L366.3,315.2"/>
<path class="ek" d="M76.5,316V268.5"/>
<path class="eb ed" d="M52.3,340C38,310 36,262 51.5,243.5"/>
<path class="ek" d="M100.7,340.2H148.2"/>
<path class="ek" d="M173.2,316L245,244.3"/>
<path class="ek" d="M197.4,340.2H245"/>
<path class="ek" d="M270,316V268.5"/>
<path class="ek" d="M342.6,340.2H294.8"/>
<text class="u lb" x="131" y="53.5">u<tspan dy="3.5">3</tspan></text>
<text class="u" x="27" y="103">u<tspan dy="3.5">1</tspan></text>
<text class="u" x="100" y="103">u<tspan dy="3.5">2</tspan></text>
<text class="u lb" x="318" y="138">u<tspan dy="3.5">4</tspan></text>
<text class="u lb" x="413" y="112">u<tspan dy="3.5">3</tspan></text>
<text class="u" x="379" y="199">u<tspan dy="3.5">2</tspan></text>
<text class="u" x="318" y="199">u<tspan dy="3.5">1</tspan></text>
<text class="u lb" x="64" y="199">u<tspan dy="3.5">3</tspan></text>
<text class="u lb" x="324" y="296">u<tspan dy="3.5">3</tspan></text>
<text class="u" x="88" y="297">u<tspan dy="3.5">2</tspan></text>
<text class="u lb" x="28" y="297">u<tspan dy="3.5">4</tspan></text>
<text class="u" x="124" y="333">u<tspan dy="3.5">1</tspan></text>
<text class="u" x="215" y="297">u<tspan dy="3.5">2</tspan></text>
<text class="u" x="215" y="333">u<tspan dy="3.5">2</tspan></text>
<text class="u" x="281" y="303">u<tspan dy="3.5">1</tspan></text>
<text class="u" x="323" y="333">u<tspan dy="3.5">2</tspan></text>
</g>
<g id="p9-q13" class="nd"><rect class="n" x="52.3" y="25.8" width="48.4" height="48.4"/><text class="q" x="76.5" y="53.5">q<tspan dy="5">13</tspan></text></g>
<g id="p9-q14" class="nd"><rect class="b" x="149" y="25.8" width="48.4" height="48.4"/><text class="q" x="173.2" y="53.5">q<tspan dy="5">14</tspan></text></g>
<g id="p9-q15" class="nd"><rect class="gr" x="245.8" y="25.8" width="48.4" height="48.4"/><text class="q" x="270" y="53.5">q<tspan dy="5">15</tspan></text></g>
<g id="p9-qus" class="nd"><rect class="kr" x="342.6" y="25.8" width="48.4" height="48.4"/><text class="q w" x="366.8" y="53.5">q<tspan class="i" dy="5">us</tspan></text></g>
<g id="p9-q9" class="nd"><rect class="n" x="52.3" y="122.6" width="48.4" height="48.4"/><text class="q" x="76.5" y="150.3">q<tspan dy="5">9</tspan></text></g>
<g id="p9-q10" class="nd"><rect class="gr" x="149" y="122.6" width="48.4" height="48.4"/><text class="q" x="173.2" y="150.3">q<tspan dy="5">10</tspan></text></g>
<g id="p9-q11" class="nd"><rect class="b" x="245.8" y="122.6" width="48.4" height="48.4"/><text class="q" x="270" y="150.3">q<tspan dy="5">11</tspan></text></g>
<g id="p9-q12" class="nd"><rect class="n" x="342.6" y="122.6" width="48.4" height="48.4"/><text class="q" x="366.8" y="150.3">q<tspan dy="5">12</tspan></text></g>
<g id="p9-q5" class="nd"><rect class="b" x="52.3" y="219.3" width="48.4" height="48.4"/><text class="q" x="76.5" y="247">q<tspan dy="5">5</tspan></text></g>
<g id="p9-q6" class="nd"><rect class="gr" x="149" y="219.3" width="48.4" height="48.4"/><text class="q" x="173.2" y="247">q<tspan dy="5">6</tspan></text></g>
<g id="p9-q7" class="nd"><rect class="b" x="245.8" y="219.3" width="48.4" height="48.4"/><text class="q" x="270" y="247">q<tspan dy="5">7</tspan></text></g>
<g id="p9-q8" class="nd"><rect class="n" x="342.6" y="219.3" width="48.4" height="48.4"/><text class="q" x="366.8" y="247">q<tspan dy="5">8</tspan></text></g>
<g id="p9-q1" class="nd"><rect class="n" x="52.3" y="316" width="48.4" height="48.4"/><text class="q" x="76.5" y="343.7">q<tspan dy="5">1</tspan></text></g>
<g id="p9-q2" class="nd"><rect class="n" x="149" y="316" width="48.4" height="48.4"/><text class="q" x="173.2" y="343.7">q<tspan dy="5">2</tspan></text></g>
<g id="p9-q3" class="nd"><rect class="n" x="245.8" y="316" width="48.4" height="48.4"/><text class="q" x="270" y="343.7">q<tspan dy="5">3</tspan></text></g>
<g id="p9-q4" class="nd"><rect class="n" x="342.6" y="316" width="48.4" height="48.4"/><text class="q" x="366.8" y="343.7">q<tspan dy="5">4</tspan></text></g>
</g>

<g id="panel-numbers">
<text class="pn" x="440" y="377">1</text>
<text class="pn" x="887" y="377">2</text>
<text class="pn" x="1335" y="377">3</text>
<text class="pn" x="440" y="764">4</text>
<text class="pn" x="887" y="765">5</text>
<text class="pn" x="1335" y="765">6</text>
<text class="pn" x="440" y="1151">7</text>
<text class="pn" x="887" y="1152">8</text>
<text class="pn" x="1335" y="1152">9</text>
</g>
</svg>
